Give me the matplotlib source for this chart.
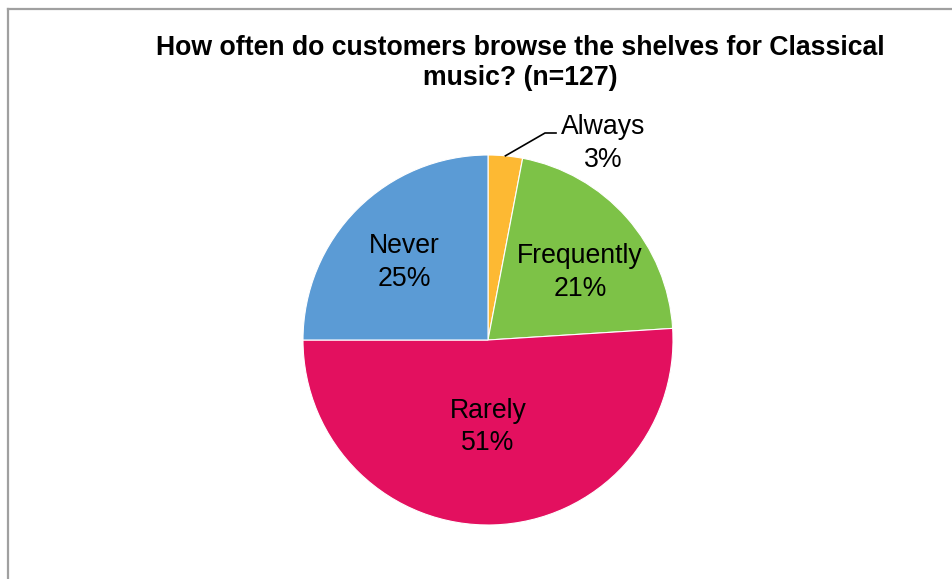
import numpy as np
import matplotlib.pyplot as plt
from matplotlib.lines import Line2D

# survey answers, clockwise from 12 o'clock
categories = ["Always", "Frequently", "Rarely", "Never"]
shares = [3, 21, 51, 25]
colors = ["#FDB933", "#7DC247", "#E3105F", "#5B9BD5"]

W, H = 953, 579
fig = plt.figure(figsize=(W / 100, H / 100), dpi=100)
plt.rcParams["font.family"] = ["Liberation Sans", "DejaVu Sans"]

# axes in pixel units, y up
ax = fig.add_axes([0, 0, 1, 1])
ax.set_xlim(0, W)
ax.set_ylim(0, H)
ax.set_aspect("equal")
ax.axis("off")

cx, cy, r = 488, H - 340, 185
wedges, _ = ax.pie(shares, colors=colors, startangle=90, counterclock=False,
                   center=(cx, cy), radius=r,
                   wedgeprops=dict(edgecolor="white", linewidth=0.8))
ax.set_xlim(0, W)
ax.set_ylim(0, H)

# label anchors, offset from the pie centre in pixels (y up)
label_pos = {"Frequently": (92, 68), "Rarely": (0, -87), "Never": (-84, 78)}
for w, name, val in zip(wedges, categories, shares):
    if name in label_pos:
        dx, dy = label_pos[name]
        ax.text(cx + dx, cy + dy, f"{name}\n{val}%",
                ha="center", va="center", fontsize=19.2, linespacing=1.35)
    else:
        # small slice: label outside with a leader line
        mid = np.deg2rad((w.theta1 + w.theta2) / 2)
        ex, ey = cx + r * np.cos(mid), cy + r * np.sin(mid)
        ax.plot([ex, 545, 556], [ey, H - 133, H - 133], color="black", lw=1.2)
        ax.text(603, H - 143, f"{name}\n{val}%", ha="center", va="center",
                fontsize=19.2, linespacing=1.35)

fig.text(520 / W, 1 - 63 / H,
         "How often do customers browse the shelves for Classical\nmusic? (n=127)",
         ha="center", va="center", fontsize=19.2, fontweight="bold", linespacing=1.2)

# chart area frame (left and top edges)
fig.add_artist(Line2D([8.5 / W, 8.5 / W], [0, 1 - 9 / H], color="#A0A0A0", lw=1.6,
                      transform=fig.transFigure))
fig.add_artist(Line2D([8.5 / W, 1], [1 - 9 / H, 1 - 9 / H], color="#A0A0A0", lw=1.6,
                      transform=fig.transFigure))

fig.savefig("out.png", dpi=100)
